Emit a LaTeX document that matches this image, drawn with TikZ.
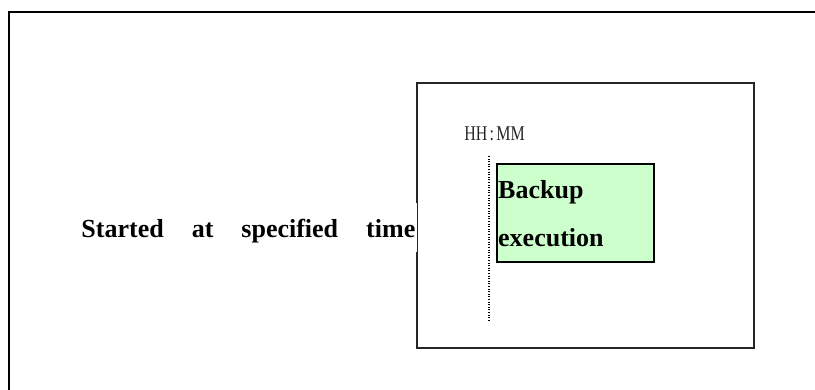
\documentclass[tikz,border=0pt]{standalone}
\usepackage{fontspec}
\setmainfont{Liberation Serif}
\definecolor{jobgreen}{HTML}{CCFFCC}
\begin{document}
\begin{tikzpicture}[x=1pt,y=-1pt,
		window/.style={draw=black!85,line width=1.6,minimum width=337,minimum height=265,inner sep=0},
		jobbox/.style={draw=black,fill=jobgreen,line width=1.5,minimum width=157,minimum height=98,inner sep=0},
		bigtext/.style={font=\fontsize{26}{48}\selectfont\bfseries,inner sep=0},
		clocktext/.style={font=\fontsize{21}{23}\selectfont,text=black!85,inner sep=0}]
			\useasboundingbox (0,0) rectangle (815,390);
			\draw [line width=1.2] (9,400)-- (9,12)-- (830,12);
			\node [window] (panel) at (585.5,215.5) {};
			\node [jobbox] (backup) at (575.5,213) {};
			\node [bigtext,align=left,anchor=north west] (backuptext) at (498,180.5) {Backup\\execution};
			\coordinate (ticktop) at (489,156);
			\coordinate (tickbot) at (489,320);
			\draw [line width=1.2,dash pattern=on 1pt off 1.6pt] (ticktop)-- (tickbot);
			\node [clocktext,anchor=base] (clock) at (494.5,141) {\scalebox{0.76}[1]{HH\kern3pt:\kern3pt MM}};
			\node [bigtext,fill=white,anchor=base east,text height=35,text depth=14,inner xsep=2] (started) at (417.5,238) {Started\hspace*{28pt}at\hspace*{28pt}specified\hspace*{28pt}time};
		\end{tikzpicture}
\end{document}
